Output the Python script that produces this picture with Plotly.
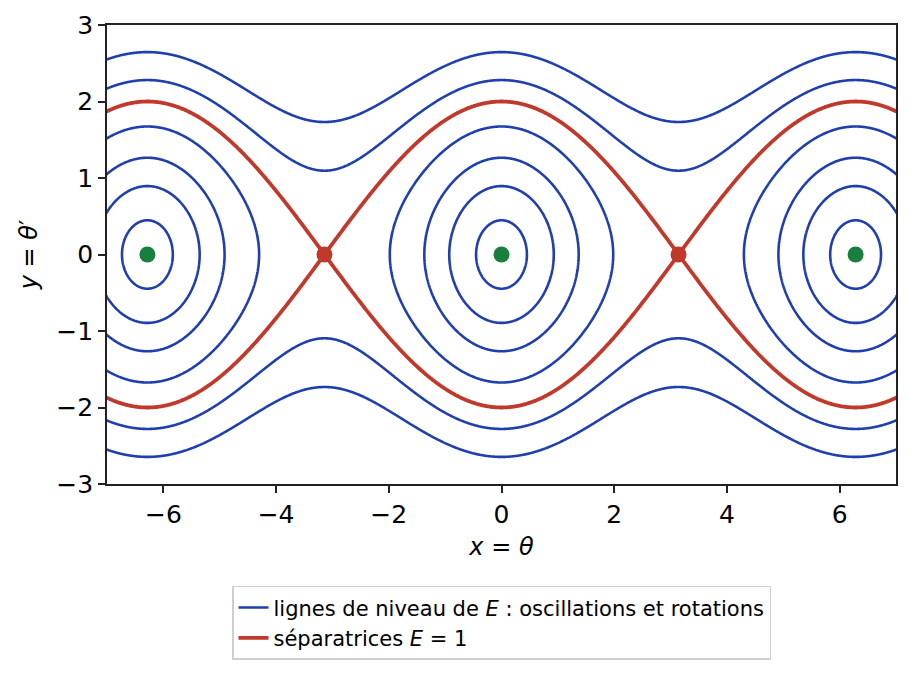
import numpy as np
import plotly.graph_objects as go

# Energy levels E = y^2/2 - cos(x)
osc_levels = [-0.9, -0.6, -0.2, 0.4]
rot_levels = [1.6, 2.5]
sep_level = 1.0
stable_x = [-2 * np.pi, 0.0, 2 * np.pi]
stable_y = [0.0, 0.0, 0.0]
saddle_x = [-np.pi, np.pi]
saddle_y = [0.0, 0.0]
xticks = [-6, -4, -2, 0, 2, 4, 6]
yticks = [-3, -2, -1, 0, 1, 2, 3]

BLUE = "#1f3fae"
RED = "#c0392b"
GREEN = "#1a7f3e"

xs = np.linspace(-7.3, 7.3, 1461)
ys = np.linspace(-3.3, 3.3, 661)
X, Y = np.meshgrid(xs, ys)
Z = Y ** 2 / 2 - np.cos(X)

fig = go.Figure()


def level_trace(lv, color, width):
    return go.Contour(
        x=xs, y=ys, z=Z,
        autocontour=False,
        contours=dict(coloring="lines", start=lv, end=lv, size=1, showlabels=False),
        colorscale=[[0, color], [1, color]],
        line=dict(width=width, smoothing=0),
        showscale=False, hoverinfo="skip", showlegend=False,
    )


for lv in osc_levels + rot_levels:
    fig.add_trace(level_trace(lv, BLUE, 2.6))
fig.add_trace(level_trace(sep_level, RED, 3.8))

fig.add_trace(go.Scatter(x=stable_x, y=stable_y, mode="markers",
                         marker=dict(color=GREEN, size=16), showlegend=False, hoverinfo="skip"))
fig.add_trace(go.Scatter(x=saddle_x, y=saddle_y, mode="markers",
                         marker=dict(color=RED, size=16), showlegend=False, hoverinfo="skip"))

# legend entries
fig.add_trace(go.Scatter(x=[None], y=[None], mode="lines", line=dict(color=BLUE, width=2.6),
                         name="lignes de niveau de <i>E</i> : oscillations et rotations"))
fig.add_trace(go.Scatter(x=[None], y=[None], mode="lines", line=dict(color=RED, width=3.8),
                         name="séparatrices <i>E</i> = 1"))

axis_common = dict(
    showgrid=False, zeroline=False, showline=True, mirror=True,
    linecolor="#222222", linewidth=1.8, ticks="outside", ticklen=7, tickwidth=1.8,
    tickcolor="#222222", tickfont=dict(size=25, color="black"),
)

fig.update_layout(
    width=895, height=659,
    margin=dict(l=99, r=7, t=17, b=180),
    paper_bgcolor="white", plot_bgcolor="white",
    font=dict(family="DejaVu Sans", color="black"),
    xaxis=dict(range=[-7, 7], tickvals=xticks, **axis_common, automargin=False,
               title=dict(text="<i>x</i> = <i>θ</i>", font=dict(size=24), standoff=10)),
    yaxis=dict(range=[-3, 3], tickvals=yticks, **axis_common, automargin=False,
               title=dict(text="<i>y</i> = <i>θ</i>′", font=dict(size=24), standoff=12)),
    legend=dict(x=0.5, xanchor="center", y=-0.222, yanchor="top",
                bordercolor="#cfcfcf", borderwidth=1.5, bgcolor="white",
                font=dict(size=21), tracegroupgap=0),
    showlegend=True,
)

fig.write_html("out.html")
